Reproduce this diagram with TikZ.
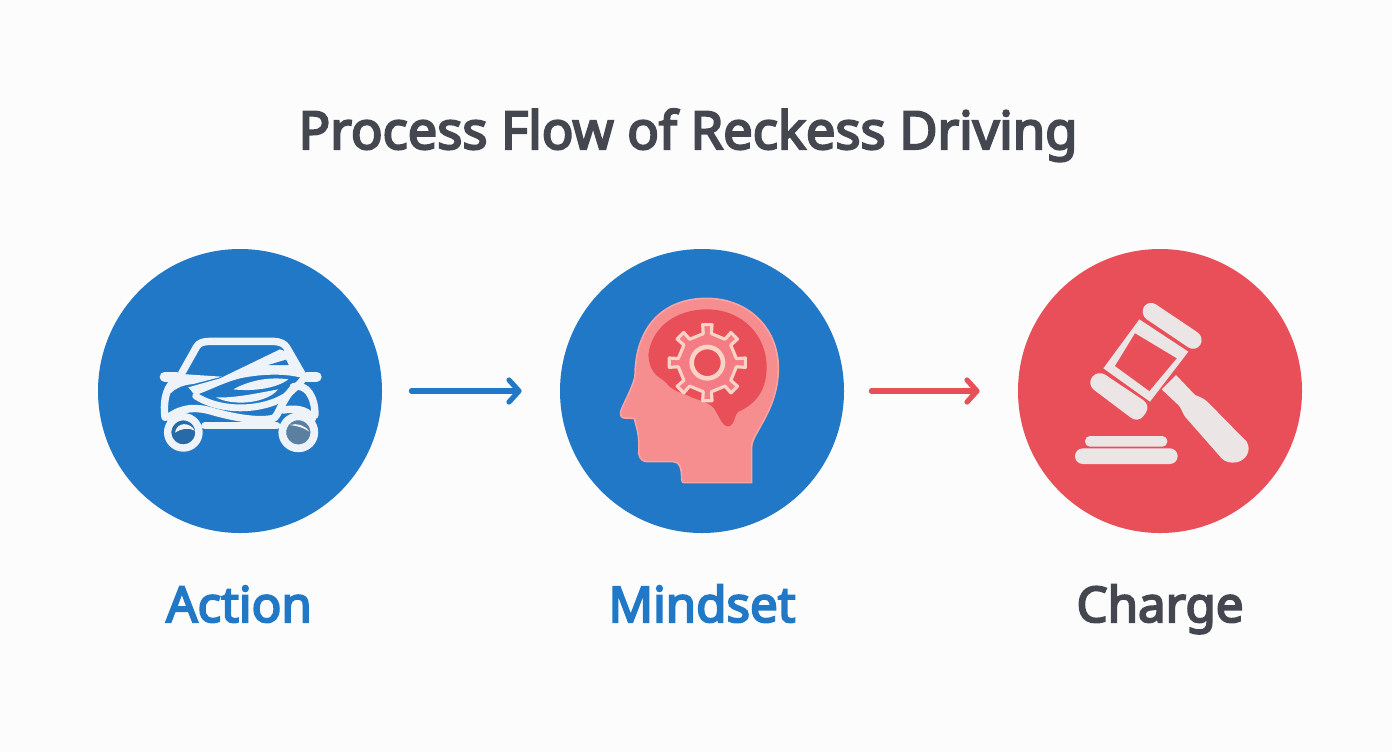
\documentclass[tikz,border=0pt]{standalone}
\usepackage{fontspec}
\setmainfont{Noto Sans}
\newfontfamily\headfont{Noto Sans}[FakeBold=4]
\usetikzlibrary{arrows.meta}
\definecolor{flowblue}{HTML}{2178C6}
\definecolor{flowred}{HTML}{E94F58}
\definecolor{inkgray}{HTML}{44474F}
\definecolor{headpink}{HTML}{F68D8F}
\definecolor{gearpink}{HTML}{F47C84}
\definecolor{cream}{HTML}{FBD3C6}
\definecolor{carwhite}{HTML}{EDF3F8}
\definecolor{gavelwhite}{HTML}{ECE5E5}
\begin{document}
\begin{tikzpicture}[x=0.5pt,y=-0.5pt]
  % styles
  \tikzset{stage/.style = {circle, minimum size=142pt, inner sep=0pt}}
  \tikzset{caption/.style = {anchor=base, font=\fontsize{24.6}{27}\headfont}}
  \tikzset{flow/.style = {line width=2.6pt, line cap=round, -{Straight Barb[length=5pt,width=11pt,line width=2.6pt,round]}}}
  \tikzset{carline/.style = {draw=carwhite, line width=3.7pt, line cap=round, line join=round}}
  \tikzset{mirror/.style = {draw=carwhite, line width=5pt, line cap=round}}
  \tikzset{gavelbar/.style = {fill=gavelwhite, rounded corners=4.5pt}}

  % page
  \fill[white!99!black] (0,0) rectangle (1392,752);
  \useasboundingbox (0,0) rectangle (1392,752);

  % title and circles
  \node[anchor=base, font=\fontsize{26.2}{28}\headfont, text=inkgray] (title) at (688,149) {Process Flow of Reckess Driving};
  \node[stage, fill=flowblue] (action) at (240,391) {};
  \node[stage, fill=flowblue] (mindset) at (702,391) {};
  \node[stage, fill=flowred] (charge) at (1160,391) {};

  % captions
  \node[caption, text=flowblue] (actionlabel) at (239,622) {Action};
  \node[caption, text=flowblue] (mindsetlabel) at (702,622) {Mindset};
  \node[caption, text=inkgray] (chargelabel) at (1160,622) {Charge};

  % arrows
  \draw[flow, draw=flowblue, shorten <=14.5pt, shorten >=19pt] (action) -- (mindset);
  \draw[flow, draw=flowred, shorten <=13.5pt, shorten >=19pt] (mindset) -- (charge);

  % car
  \begin{scope}[shift={(130,310)}, scale=1/3]
    \draw[carline] (155,190) -- (200,110) .. controls (208,97) and (220,95) .. (240,94) -- (430,94) .. controls (450,95) and (462,100) .. (470,112) -- (515,190);
    \draw[mirror] (104,200) -- (140,200);
    \draw[mirror] (530,200) -- (560,200);
    % hood and swoosh
    \fill[carwhite] (125,190) -- (275,200) -- (190,222) .. controls (160,225) and (140,232) .. (122,250) -- cycle;
    \fill[carwhite] (195,256) -- (175,232) -- (270,205) -- (450,118) -- (480,130) -- (525,207) .. controls (480,190) and (400,190) .. (330,205) .. controls (280,218) and (240,240) .. (195,256) -- cycle;
    \fill[flowblue] (415,165) -- (468,149) -- (476,165) -- cycle;
    \draw[carline, line width=3.4pt] (197,258) .. controls (280,310) and (400,300) .. (465,260) .. controls (490,240) and (505,225) .. (520,207);
    \draw[carline] (130,215) .. controls (105,240) and (100,280) .. (105,322);
    \draw[carline] (115,322) .. controls (160,290) and (200,290) .. (250,305) .. controls (320,325) and (390,335) .. (430,325) .. controls (445,320) and (455,270) .. (490,235);
    \draw[carline] (490,230) .. controls (530,220) and (555,260) .. (555,315);
    \draw[carline] (225,347) -- (440,347);
    \draw[carline] (460,300) .. controls (490,295) and (530,295) .. (548,325);
    \fill[carwhite] (310,238) .. controls (360,210) and (420,200) .. (475,208) .. controls (440,235) and (370,245) .. (310,238) -- cycle;
    \fill[carwhite] (258,262) .. controls (310,265) and (380,250) .. (445,238) .. controls (410,280) and (310,290) .. (258,262) -- cycle;
    % wheels
    \fill[flowblue!82!black!95!white] (160,367) circle[radius=36];
    \draw[carwhite, line width=3.7pt] (160,367) circle[radius=47];
    \fill[carwhite] (135,368) .. controls (140,335) and (180,335) .. (195,362) .. controls (175,352) and (155,355) .. (135,368) -- cycle;
    \fill[flowblue!60!black!70!white] (505,367) circle[radius=36];
    \draw[carwhite, line width=3.9pt] (505,367) circle[radius=48];
    \fill[carwhite] (480,345) .. controls (500,338) and (525,345) .. (538,365) .. controls (520,352) and (500,348) .. (480,345) -- cycle;
  \end{scope}

  % head with gear
  \begin{scope}[shift={(590,290)}, scale=1/3]
    \filldraw[fill=headpink, draw=headpink!80!white, line width=0.8pt] (485,578) -- (485,470) .. controls (485,430) and (565,360) .. (565,235) .. controls (565,110) and (470,25) .. (350,25) .. controls (220,25) and (135,110) .. (135,260) .. controls (125,300) and (100,340) .. (92,365) .. controls (90,378) and (95,384) .. (105,384) -- (133,385) .. controls (138,410) and (150,430) .. (146,490) .. controls (150,510) and (160,515) .. (175,515) -- (250,515) .. controls (270,515) and (275,535) .. (275,570) .. controls (276,577) and (280,578) .. (285,578) -- cycle;
    \fill[flowred] (175,195) .. controls (185,110) and (260,58) .. (350,58) .. controls (460,58) and (532,140) .. (530,235) .. controls (528,310) and (490,345) .. (445,365) .. controls (432,375) and (436,400) .. (420,408) .. controls (400,415) and (390,385) .. (378,365) .. controls (365,335) and (330,335) .. (290,315) .. controls (265,305) and (245,300) .. (230,280) .. controls (215,262) and (180,260) .. (175,195) -- cycle;
    % gear teeth
    \filldraw[fill=gearpink, draw=cream, line width=1.6pt, line join=round, shift={(352,218)}]
      (-8:88)
      \foreach \a in {0,45,...,315} {
        -- (\a-8:88) -- (\a-7:115) -- (\a+7:115) -- (\a+8:88) -- (\a+37:88)
      } -- cycle;
    \filldraw[fill=flowred, draw=cream, line width=2.3pt] (352,218) circle[radius=47];
  \end{scope}

  % gavel
  \begin{scope}[shift={(1050,280)}, scale=1/3]
    \fill[gavelwhite] (335,328) -- (378,285) -- (435,345) .. controls (455,352) and (465,358) .. (475,368) -- (590,485) .. controls (605,510) and (590,540) .. (560,547) .. controls (540,550) and (525,545) .. (515,535) -- (405,410) .. controls (395,395) and (395,385) .. (385,375) -- cycle;
    \fill[gavelwhite] (268,118) -- (415,215) -- (300,365) -- (160,265) -- cycle;
    \fill[flowred] (255,160) -- (380,235) -- (298,333) -- (195,258) -- cycle;
    \fill[gavelbar] (295,58) -- (465,172) -- (437,217) -- (268,103) -- cycle;
    \fill[gavelbar] (143,269) -- (303,376) -- (265,430) -- (110,313) -- cycle;
    \fill[gavelwhite, rounded corners=2.5pt] (105,468) rectangle (352,500);
    \fill[gavelwhite, rounded corners=3.9pt] (75,505) rectangle (383,552);
  \end{scope}
\end{tikzpicture}
\end{document}
